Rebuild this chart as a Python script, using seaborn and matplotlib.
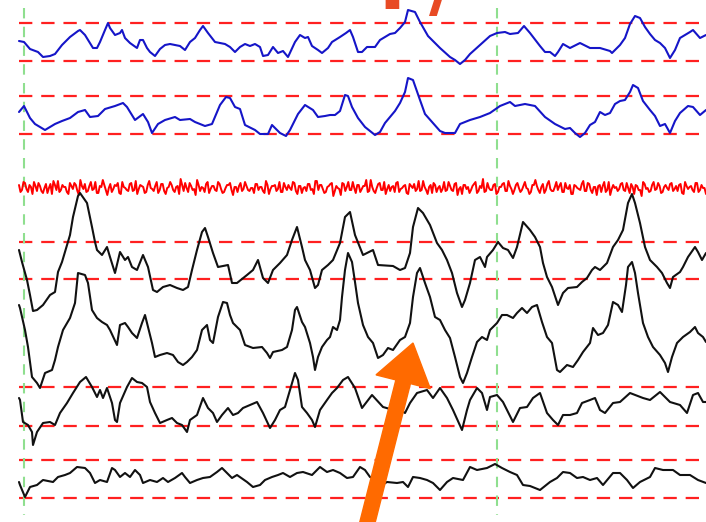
import numpy as np
import pandas as pd
import matplotlib
matplotlib.use("Agg")
import matplotlib.pyplot as plt
import seaborn as sns
from matplotlib.patches import FancyArrow

# ---- data (x = horizontal position, y = vertical level, top = 0) ----
blue1 = [(19,41),(24,42),(30,49),(38,52),(43,57),(50,56),(55,54),(62,45),(70,37),(78,31),
         (80,30),(85,35),(93,48),(97,48),(100,42),(105,30),(108,23),(110,28),(115,35),(120,33),
         (122,30),(125,38),(130,43),(137,48),(140,40),(143,40),(147,48),(150,52),(155,56),(160,49),
         (165,45),(170,44),(180,46),(185,50),(190,42),(195,38),(200,30),(203,26),(208,33),(215,42),
         (225,44),(230,47),(235,52),(240,47),(245,44),(250,46),(255,44),(260,47),(263,56),(268,55),
         (273,47),(278,53),(283,51),(288,57),(295,42),(300,35),(305,38),(308,37),(312,46),(318,50),
         (322,53),(328,48),(332,42),(340,37),(346,33),(350,30),(353,37),(358,52),(362,52),(367,47),
         (375,47),(380,40),(390,34),(395,33),(400,28),(405,22),(408,10),(415,12),(420,22),(428,36),
         (440,48),(450,57),(455,60),(460,64),(465,60),(470,54),(480,45),(490,36),(497,33),(505,32),
         (510,34),(518,33),(524,26),(530,33),(540,46),(545,52),(550,52),(555,56),(558,52),(563,44),
         (570,48),(580,43),(590,48),(600,48),(610,51),(612,53),(620,45),(625,38),(630,24),(635,16),
         (640,18),(645,27),(650,34),(655,40),(660,43),(665,48),(670,58),(675,50),(680,38),(690,32),
         (693,30),(700,38),(706,35)]

blue2 = [(19,112),(24,106),(30,118),(35,124),(45,130),(50,127),(55,124),(62,121),(70,118),(78,112),
         (85,110),(90,117),(98,116),(105,109),(115,106),(123,103),(127,107),(135,120),(143,114),(148,122),
         (152,133),(158,124),(165,120),(175,117),(180,120),(190,119),(195,122),(205,126),(212,124),(220,105),
         (226,97),(230,98),(235,107),(240,109),(245,125),(255,130),(260,134),(268,134),(272,125),(280,133),
         (286,136),(290,130),(298,114),(305,105),(313,110),(318,117),(325,116),(330,115),(335,115),(340,111),
         (345,95),(348,96),(352,107),(358,118),(365,127),(375,135),(380,132),(385,123),(395,111),(400,103),
         (405,92),(408,78),(413,80),(420,100),(425,114),(440,131),(445,133),(455,133),(460,124),(470,120),
         (480,117),(490,113),(500,106),(510,102),(515,106),(525,104),(535,106),(545,117),(555,124),(565,129),
         (570,128),(575,133),(580,137),(585,133),(590,125),(595,122),(600,112),(605,115),(610,113),(615,104),
         (620,101),(625,100),(630,92),(633,85),(638,88),(643,101),(650,110),(655,116),(660,126),(665,124),
         (670,133),(675,121),(680,113),(688,106),(693,107),(700,115),(706,110)]

noise_level = 188
noise_a = [3,-2,5,-4,1,6,-3,2,-5,4,0,-6,3,7,-2,1,-4,5,-1,3,-7,2,4,-3,6,-1,-5,2,8,-2,0,-4,3,5,-6,1,-2,4,-3,7,
           -1,2,-5,3,0,-3,6,-2,4,-6,1,3,-4,2,9,-3,0,5,-2,-7,3,1,-4,6,-1,2,-3,4,-5,0,
           3,-2,1,-4,5,-1,2,-3,0,4,-2,1,-5,3,-1,2,-3,6,-4,1,3,-2,5,-6,2,0,-3,4,-1,7,
           -2,3,-5,1,4,-8,2,-1,5,-3,6,-2,0,3,-4,2,8,-3,1,-5,4,-2,6,-1,-3,2,5,-4,0,3,
           -6,2,4,-1,-3,7,-2,1,-5,3,0,-4,6,-2,2,-3,5,-1,-6,3,1,-2,4,-5,2,9,-3,0,-2,4,
           -4,1,5,-3,2,-6,3,0,-2,6,-1,-4,3,2,-5,4,-2,7,-3,1,-2,5,-4,0,3,-6,2,-1,4,-3,
           5,-2,1,-7,3,2,-4,6,-1,0,-3,4,-2,5,-5,1,3,-2,-8,4,0,-3,6,-1,2,-4,3,-2,5,-1,
           -3,4,-6,2,1,-2,5,-4,3,0]
noise_b = [-4,6,-1,3,-6,2,5,-3,0,-5,4,7,-2,-4,3,1,-6,2,5,-3,8,-1,-4,2,-2,6,-5,1,3,-7,
           4,-1,2,-5,6,0,-3,5,-2,-6,3,1,-4,7,-1,2,-5,4,-3,0,6,-2,1,-6,3,5,-4,2,-1,8,
           -3,0,4,-5,2,-2,6,-1,-4,3,5,-7,1,2,-3,6,-2,0,-5,4,1,-3,7,-6,2,3,-1,-4,5,-2,
           0,6,-3,2,-5,1,4,-2,-6,7,3,-1,-4,2,5,-3,0,-7,4,1,-2,6,-5,3,-1,2,-4,8,-3,0,
           5,-2,-6,3,1,-4,6,-1,2,-5,4,0,-3,7,-2,1,-6,3,5,-4,2,-1,-3,6,-2,4,-7,1,3,-1,
           -5,2,6,-3,0,-4,5,-2,3,-6,1,4,-3,7,-1,-2,5,-4,2,0,-6,3,8,-2,1,-5,4,-1,-3,6,
           2,-4,5,-1,-6,3,0,-2,7,-3,4,-5,1,2,-4,6,-2,-7,3,1,-1,5,-3,0,4,-6,2,-2,6,-1,
           -4,3,-2,5,-5,1,0,4,-3,2,3,-5,6,-1,2,-4,5,-2,0,-6]

black1 = [(19,250),(22,262),(27,280),(30,295),(33,311),(37,310),(43,305),(50,295),(55,292),(58,272),
          (62,262),(67,245),(70,235),(73,217),(78,196),(80,193),(87,203),(92,227),(95,242),(97,250),
          (102,255),(107,247),(110,257),(115,273),(120,252),(125,260),(128,257),(132,267),(137,270),(143,255),
          (148,267),(153,290),(157,292),(163,287),(170,285),(177,288),(183,290),(188,287),(192,270),(197,250),
          (202,232),(205,228),(208,237),(213,253),(218,267),(228,265),(232,283),(237,283),(247,275),(253,270),
          (258,260),(263,278),(268,283),(273,270),(280,263),(287,255),(292,240),(297,227),(302,247),(305,260),
          (310,270),(315,288),(318,285),(322,270),(328,265),(333,260),(340,243),(345,217),(350,212),(355,235),
          (363,255),(373,250),(378,265),(393,266),(400,270),(405,268),(410,253),(413,227),(418,208),(423,213),
          (430,225),(437,243),(442,250),(447,260),(452,273),(457,293),(462,307),(465,300),(470,283),(475,260),
          (480,257),(485,267),(487,257),(493,250),(498,242),(503,248),(508,250),(513,258),(517,247),(523,222),
          (530,230),(535,237),(540,247),(543,263),(547,277),(552,287),(558,305),(563,293),(568,288),(577,287),
          (582,282),(587,278),(592,270),(595,267),(600,270),(607,263),(613,247),(618,240),(623,230),(628,203),
          (632,194),(635,203),(640,223),(645,247),(650,260),(657,267),(662,273),(667,283),(670,288),(673,277),
          (680,272),(683,267),(688,257),(695,247),(698,252),(702,260),(706,253)]

black2 = [(19,305),(20,308),(25,330),(28,347),(32,377),(37,383),(40,388),(45,373),(52,370),(55,360),
          (58,347),(63,330),(70,318),(75,303),(78,273),(85,275),(88,283),(92,310),(97,318),(102,322),
          (107,325),(110,330),(117,345),(120,325),(125,323),(128,327),(132,333),(137,338),(142,323),(145,315),
          (148,327),(152,343),(155,357),(160,355),(167,353),(173,355),(178,362),(183,365),(187,362),(192,357),
          (197,350),(202,330),(207,325),(210,340),(213,343),(218,317),(223,302),(227,303),(230,315),(233,323),
          (240,330),(245,345),(253,348),(262,347),(267,353),(270,358),(273,352),(282,350),(287,347),(292,330),
          (295,310),(297,307),(302,322),(305,327),(310,343),(313,357),(315,370),(318,357),(322,347),(327,340),
          (330,337),(333,327),(337,330),(340,320),(342,297),(345,270),(348,253),(352,262),(355,282),(358,303),
          (363,325),(368,337),(373,343),(378,358),(383,355),(388,348),(393,350),(400,340),(405,337),(410,323),
          (413,297),(417,273),(420,268),(425,283),(430,297),(435,317),(440,320),(445,330),(450,338),(455,357),
          (460,377),(463,383),(467,373),(472,357),(477,342),(482,337),(487,340),(490,330),(497,323),(502,315),
          (507,315),(513,318),(517,313),(522,308),(527,313),(532,307),(537,305),(542,322),(547,337),(552,343),
          (557,370),(560,372),(567,365),(573,367),(578,360),(583,352),(590,343),(593,328),(598,335),(603,333),
          (608,325),(613,302),(618,305),(622,312),(626,285),(628,267),(632,262),(635,273),(638,293),(643,323),
          (648,337),(653,347),(660,355),(665,363),(668,372),(672,357),(677,343),(683,337),(690,332),(695,327),
          (698,333),(703,337),(706,342)]

black3 = [(19,398),(20,400),(23,422),(28,425),(32,432),(33,445),(37,432),(43,423),(50,422),(55,425),
          (60,413),(67,403),(73,393),(80,382),(86,377),(92,387),(97,397),(100,390),(103,398),(107,388),
          (112,403),(115,420),(117,422),(120,403),(127,387),(132,378),(137,382),(142,383),(147,387),(150,402),
          (155,413),(160,423),(167,420),(172,418),(177,423),(182,425),(187,432),(190,420),(197,415),(203,398),
          (208,408),(213,413),(217,422),(222,415),(228,408),(233,415),(238,413),(243,408),(250,405),(257,402),
          (263,413),(270,428),(275,420),(280,410),(285,407),(290,390),(295,373),(298,380),(302,407),(307,413),
          (312,420),(315,427),(320,410),(327,400),(332,393),(337,388),(343,380),(348,377),(355,388),(362,408),
          (372,395),(383,407),(390,409),(400,410),(405,413),(410,403),(417,393),(427,390),(433,398),(440,388),
          (447,398),(453,410),(462,430),(467,410),(470,400),(477,388),(482,393),(487,410),(490,397),(497,395),
          (503,402),(513,422),(520,408),(527,407),(533,398),(540,393),(547,413),(553,420),(558,425),(563,415),
          (570,415),(577,413),(582,403),(590,400),(595,398),(600,410),(605,413),(613,403),(620,402),(630,393),
          (643,398),(650,400),(660,392),(670,402),(680,405),(687,413),(693,395),(698,393),(703,402),(706,402)]

black4 = [(19,482),(20,485),(25,497),(30,487),(37,485),(43,480),(53,482),(58,477),(65,475),(70,473),
          (77,467),(85,468),(90,473),(95,483),(100,480),(107,482),(112,468),(115,470),(120,477),(125,473),
          (130,477),(135,470),(140,475),(143,483),(150,480),(157,482),(163,478),(168,482),(175,478),(182,473),
          (185,477),(190,483),(197,480),(203,478),(210,477),(217,472),(222,468),(227,473),(232,478),(237,475),
          (247,482),(253,487),(260,485),(265,480),(272,477),(278,475),(283,473),(290,477),(297,473),(303,472),
          (312,475),(320,467),(327,472),(333,470),(340,473),(347,478),(353,477),(360,467),(365,470),(370,477),
          (377,480),(382,485),(387,482),(397,483),(403,482),(408,487),(413,477),(420,478),(427,480),(433,483),
          (440,490),(447,482),(453,478),(463,480),(470,467),(477,470),(487,468),(495,464),(502,468),(510,472),
          (517,475),(523,485),(530,486),(540,490),(550,482),(557,478),(563,472),(570,473),(577,478),(583,477),
          (590,480),(597,478),(603,485),(613,473),(620,473),(627,480),(633,488),(640,482),(650,477),(655,468),
          (663,470),(673,470),(680,475),(690,475),(698,480),(706,483)]

guide_levels = [23, 61, 96, 134, 242, 279, 387, 426, 460, 498]
marker_times = [24, 497]

# ---- drawing ----
sns.set_style("white")
fig = plt.figure(figsize=(7.06, 5.22), dpi=100)
ax = fig.add_axes([0, 0, 1, 1])

ax.hlines(guide_levels, 19, 706, colors="#FF2020", linestyles=(0, (6, 4)), linewidth=1.6, zorder=1)
ax.vlines(marker_times, 8, 515, colors="#8FDF8F", linestyles=(0, (5, 4)), linewidth=1.5, zorder=1)

def draw(points, color, lw=1.5):
    df = pd.DataFrame(points, columns=["x", "y"])
    sns.lineplot(data=df, x="x", y="y", color=color, linewidth=lw, ax=ax,
                 estimator=None, sort=False, zorder=3)

draw(blue1, "#1515C8")
draw(blue2, "#1515C8")

noise = [v for pair in zip(noise_a, noise_b) for v in pair]
noise_df = pd.DataFrame({"x": np.linspace(19, 706, len(noise)),
                         "y": noise_level - np.array(noise)})
sns.lineplot(data=noise_df, x="x", y="y", color="#FF0000", linewidth=1.4, ax=ax,
             estimator=None, sort=False, zorder=3)

draw(black1, "#111111")
draw(black2, "#111111")
draw(black3, "#111111")
draw(black4, "#111111")

ax.add_patch(FancyArrow(365, 532, 413 - 365, 343 - 532, width=15, head_width=56,
                        head_length=40, length_includes_head=True,
                        color="#FF6A00", zorder=5))

ax.text(392, 9, "I", color="#E84A24", fontsize=52, fontweight="bold",
        ha="center", va="baseline", zorder=5)
ax.text(442, 9, "/", color="#E84A24", fontsize=52, fontweight="bold",
        ha="center", va="baseline", zorder=5)

ax.set_xlim(0, 706)
ax.set_ylim(522, 0)
ax.axis("off")
fig.savefig("out.png", dpi=100, facecolor="white")
